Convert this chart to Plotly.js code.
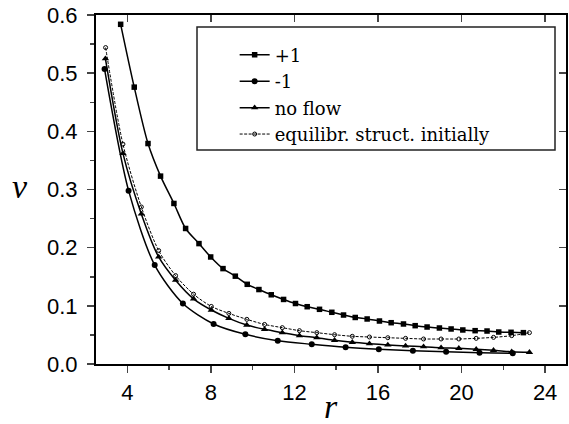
<!DOCTYPE html>
<html>
<head>
<meta charset="utf-8">
<script src="https://cdn.plot.ly/plotly-3.0.1.min.js"></script>
<style>html,body{margin:0;padding:0;background:#fff;}#chart{width:569px;height:424px;}</style>
</head>
<body>
<div id="chart"></div>
<script>
// ---- data ----
const plusR = [3.68,4.33,4.99,5.59,6.23,6.79,7.43,7.99,8.58,9.17,9.74,10.30,10.89,11.48,12.05,12.61,13.20,13.79,14.35,14.91,15.48,16.07,16.63,17.22,17.78,18.35,18.94,19.50,20.06,20.65,21.22,21.78,22.37,22.96];
const plusV = [0.584,0.476,0.379,0.323,0.276,0.233,0.207,0.184,0.164,0.151,0.137,0.128,0.119,0.111,0.104,0.0985,0.094,0.0889,0.0842,0.080,0.0774,0.0739,0.071,0.0688,0.0659,0.0636,0.0619,0.0602,0.0585,0.0573,0.0567,0.055,0.0545,0.0539];

const minusR = [2.91,4.06,5.31,6.66,8.13,9.65,11.20,12.83,14.45,16.04,17.67,19.26,20.86,22.45];
const minusV = [0.507,0.298,0.170,0.104,0.0688,0.051,0.040,0.0339,0.0287,0.0253,0.0229,0.0212,0.0195,0.0184];

const noflowR = [2.95,3.79,4.67,5.50,6.31,7.17,8.02,8.86,9.72,10.57,11.42,12.24,13.07,13.92,14.77,15.59,16.47,17.32,18.18,19.02,19.87,20.70,21.53,22.40,23.25];
const noflowV = [0.525,0.362,0.258,0.184,0.144,0.112,0.0928,0.0785,0.067,0.0596,0.0539,0.0487,0.0452,0.0407,0.0373,0.0349,0.0327,0.031,0.0298,0.028,0.027,0.0253,0.0236,0.0212,0.0201];

const eqR = [2.96,3.79,4.67,5.50,6.31,7.17,8.02,8.86,9.72,10.57,11.42,12.24,13.07,13.92,14.77,15.59,16.47,17.32,18.18,19.02,19.87,20.70,21.53,22.40,23.25];
const eqV = [0.544,0.378,0.270,0.195,0.152,0.120,0.0990,0.087,0.0768,0.068,0.0625,0.0573,0.0539,0.0504,0.0476,0.0464,0.0452,0.0441,0.043,0.043,0.043,0.0441,0.0458,0.0487,0.0539];

const names = ['+1','-1','no flow','equilibr. struct. initially'];
const xTicks = [4,8,12,16,20,24];
const yTicks = [0,0.1,0.2,0.3,0.4,0.5,0.6];
const yTickText = ['0.0','0.1','0.2','0.3','0.4','0.5','0.6'];

const lineBase = {color:'#000', width:1.5, shape:'spline', smoothing:0.8};

const traces = [
  {x:plusR, y:plusV, name:names[0], mode:'lines+markers', line:lineBase,
   marker:{symbol:'square', size:5.5, color:'#000'}},
  {x:minusR, y:minusV, name:names[1], mode:'lines+markers', line:lineBase,
   marker:{symbol:'circle', size:6, color:'#000'}},
  {x:noflowR, y:noflowV, name:names[2], mode:'lines+markers', line:lineBase,
   marker:{symbol:'triangle-up', size:6.5, color:'#000'}},
  {x:eqR, y:eqV, name:names[3], mode:'lines+markers',
   line:{color:'#000', width:1, dash:'3px,1.5px', shape:'spline', smoothing:0.8},
   marker:{symbol:'circle-open', size:4, color:'#000', line:{width:1, color:'#000'}}},
  {x:[2.5], y:[0], xaxis:'x2', yaxis:'y2', mode:'markers', marker:{opacity:0}, showlegend:false, hoverinfo:'skip'}
];

const tickFont = {family:'Liberation Sans, Arial, sans-serif', size:22, color:'#000'};

const layout = {
  width:569, height:424,
  margin:{l:96, r:3, t:15, b:60},
  paper_bgcolor:'#fff', plot_bgcolor:'#fff',
  showlegend:true,
  xaxis:{range:[2.5,25], tickvals:xTicks, ticks:'outside', ticklen:7, tickwidth:1.5,
    showline:true, linewidth:2, linecolor:'#000', showgrid:false, zeroline:false,
    tickfont:tickFont, ticklabelstandoff:1,
    minor:{tickvals:[6,10,14,18,22], ticks:'outside', ticklen:4, tickwidth:1.5, showgrid:false}},
  yaxis:{range:[0,0.6], tickvals:yTicks, ticktext:yTickText, ticks:'outside', ticklen:7, tickwidth:1.5,
    showline:true, linewidth:2, linecolor:'#000', showgrid:false, zeroline:false,
    tickfont:tickFont, ticklabelstandoff:5,
    minor:{tickvals:[0.05,0.15,0.25,0.35,0.45,0.55], ticks:'outside', ticklen:4, tickwidth:1.5, showgrid:false}},
  xaxis2:{range:[2.5,25], overlaying:'x', side:'top', tickvals:xTicks, ticks:'inside', ticklen:7, tickwidth:1.5,
    showticklabels:false, showline:true, linewidth:2, linecolor:'#000', showgrid:false, zeroline:false},
  yaxis2:{range:[0,0.6], overlaying:'y', side:'right', tickvals:yTicks, ticks:'inside', ticklen:7, tickwidth:1.5,
    showticklabels:false, showline:true, linewidth:2, linecolor:'#000', showgrid:false, zeroline:false},
  legend:{x:0.295, y:0.938, xanchor:'left', yanchor:'top', bgcolor:'rgba(0,0,0,0)', borderwidth:0,
    font:{family:'DejaVu Serif, serif', size:18, color:'#000'},
    tracegroupgap:0},
  shapes:[{type:'rect', xref:'paper', yref:'paper', x0:0.2149, x1:0.9766, y0:0.613, y1:0.9656,
    line:{color:'#222', width:1.5}, fillcolor:'rgba(0,0,0,0)'}],
  annotations:[
    {text:'<i>v</i>', xref:'paper', yref:'paper', x:(20-96)/470, y:(364-186)/349, showarrow:false,
     xanchor:'center', yanchor:'middle', font:{family:'Liberation Serif, serif', size:34, color:'#000'}},
    {text:'<i>r</i>', xref:'paper', yref:'paper', x:(331-96)/470, y:(364-406)/349, showarrow:false,
     xanchor:'center', yanchor:'middle', font:{family:'Liberation Serif, serif', size:34, color:'#000'}}
  ]
};

Plotly.newPlot('chart', traces, layout, {displayModeBar:false, staticPlot:true});
</script>
</body>
</html>
